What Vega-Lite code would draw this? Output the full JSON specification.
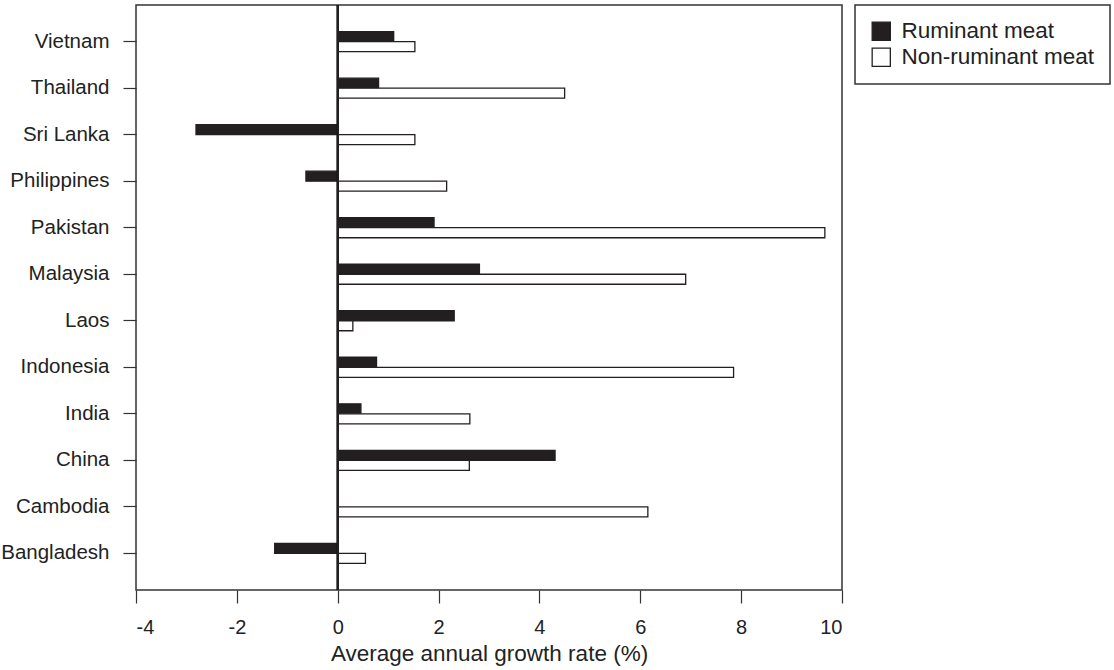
{
  "$schema": "https://vega.github.io/schema/vega-lite/v6.json",
  "width": 706,
  "height": 585,
  "autosize": {"type": "none"},
  "padding": {"left": 136, "top": 5, "right": 272, "bottom": 80},
  "background": "white",
  "config": {
    "font": "Liberation Sans",
    "view": {"stroke": "#333333", "strokeWidth": 1.5},
    "axis": {"labelColor": "#222222", "titleColor": "#222222", "tickColor": "#333333", "tickWidth": 1.2, "domain": false, "grid": false}
  },
  "data": {
    "values": [
      {"country": "Vietnam", "type": "Ruminant meat", "rate": 1.11},
      {"country": "Vietnam", "type": "Non-ruminant meat", "rate": 1.53},
      {"country": "Thailand", "type": "Ruminant meat", "rate": 0.81},
      {"country": "Thailand", "type": "Non-ruminant meat", "rate": 4.5},
      {"country": "Sri Lanka", "type": "Ruminant meat", "rate": -2.81},
      {"country": "Sri Lanka", "type": "Non-ruminant meat", "rate": 1.53},
      {"country": "Philippines", "type": "Ruminant meat", "rate": -0.63},
      {"country": "Philippines", "type": "Non-ruminant meat", "rate": 2.16},
      {"country": "Pakistan", "type": "Ruminant meat", "rate": 1.91},
      {"country": "Pakistan", "type": "Non-ruminant meat", "rate": 9.66},
      {"country": "Malaysia", "type": "Ruminant meat", "rate": 2.81},
      {"country": "Malaysia", "type": "Non-ruminant meat", "rate": 6.9},
      {"country": "Laos", "type": "Ruminant meat", "rate": 2.31},
      {"country": "Laos", "type": "Non-ruminant meat", "rate": 0.3},
      {"country": "Indonesia", "type": "Ruminant meat", "rate": 0.77},
      {"country": "Indonesia", "type": "Non-ruminant meat", "rate": 7.85},
      {"country": "India", "type": "Ruminant meat", "rate": 0.46},
      {"country": "India", "type": "Non-ruminant meat", "rate": 2.62},
      {"country": "China", "type": "Ruminant meat", "rate": 4.31},
      {"country": "China", "type": "Non-ruminant meat", "rate": 2.61},
      {"country": "Cambodia", "type": "Ruminant meat", "rate": 0},
      {"country": "Cambodia", "type": "Non-ruminant meat", "rate": 6.15},
      {"country": "Bangladesh", "type": "Ruminant meat", "rate": -1.25},
      {"country": "Bangladesh", "type": "Non-ruminant meat", "rate": 0.55}
    ]
  },
  "layer": [
    {
      "mark": {"type": "bar", "stroke": "#231f20", "strokeWidth": 1.3, "cornerRadius": 0},
      "encoding": {
        "y": {
          "field": "country",
          "type": "nominal",
          "scale": {
            "domain": ["Vietnam", "Thailand", "Sri Lanka", "Philippines", "Pakistan", "Malaysia", "Laos", "Indonesia", "India", "China", "Cambodia", "Bangladesh"],
            "paddingInner": 0.57,
            "paddingOuter": 0.573
          },
          "axis": {"title": null, "labelFontSize": 20.5, "tickSize": 13, "labelPadding": 14}
        },
        "yOffset": {
          "field": "type",
          "type": "nominal",
          "scale": {"domain": ["Ruminant meat", "Non-ruminant meat"], "paddingInner": 0, "paddingOuter": 0}
        },
        "x": {
          "field": "rate",
          "type": "quantitative",
          "scale": {"domain": [-4, 10], "nice": false, "zero": false},
          "axis": {
            "title": "Average annual growth rate (%)",
            "values": [-4, -2, 0, 2, 4, 6, 8, 10],
            "labelExpr": "datum.value < 0 ? '-' + abs(datum.value) : '' + datum.value",
            "labelFontSize": 20,
            "tickSize": 13,
            "labelPadding": 14,
            "titleFontSize": 22.5,
            "titleFontWeight": "normal",
            "titlePadding": 5
          }
        },
        "fill": {
          "field": "type",
          "type": "nominal",
          "scale": {"domain": ["Ruminant meat", "Non-ruminant meat"], "range": ["#231f20", "#ffffff"]},
          "legend": {
            "title": null,
            "orient": "none",
            "legendX": 719,
            "legendY": 0,
            "padding": 15,
            "strokeColor": "#333333",
            "fillColor": "white",
            "symbolType": "square",
            "symbolSize": 330,
            "symbolStrokeColor": "#231f20",
            "symbolStrokeWidth": 1.3,
            "labelFontSize": 22.5,
            "labelColor": "#222222",
            "labelOffset": 9,
            "rowPadding": 2,
            "labelLimit": 400,
            "encode": {"legend": {"update": {"strokeWidth": {"value": 1.5}}}}
          }
        }
      }
    },
    {
      "mark": {"type": "rule", "color": "#231f20", "strokeWidth": 1.5},
      "encoding": {"x": {"datum": 0}}
    }
  ]
}
